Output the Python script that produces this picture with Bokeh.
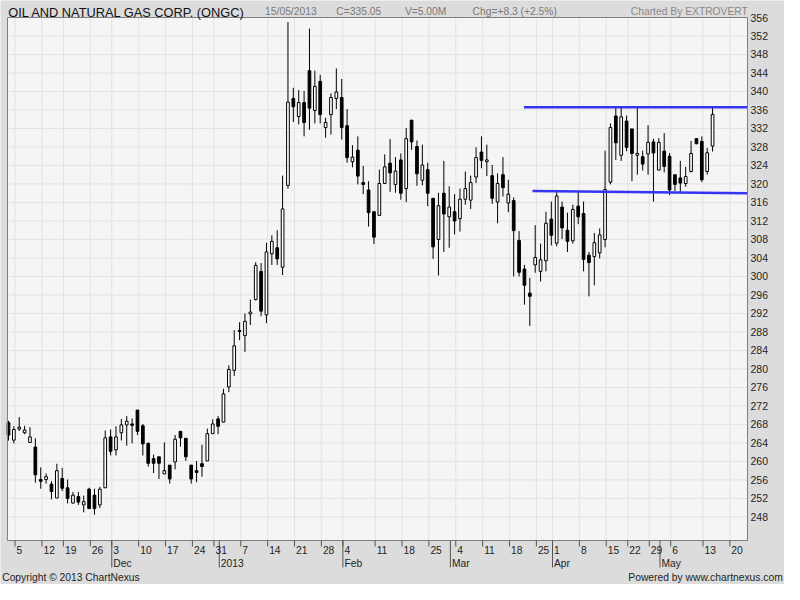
from bokeh.plotting import figure
from bokeh.models import Range1d, ColumnDataSource
from bokeh.core.properties import value
from bokeh.embed import file_html
from bokeh.resources import INLINE

# ---------------- data (daily OHLC, ONGC, 2 Nov 2012 - 15 May 2013) ----------------
opens = [268.4, 264.6, 267.0, 266.2, 264.1, 263.1, 256.1, 256.1, 255.1, 252.1,
         256.3, 254.3, 251.0, 252.4, 250.6, 254.0, 252.7, 250.6, 254.3, 265.3,
         262.5, 266.2, 267.9, 268.1, 271.1, 267.7, 263.9, 260.6, 261.0, 257.3,
         259.2, 259.9, 266.5, 265.0, 259.2, 258.0, 259.5, 260.1, 266.0, 269.2,
         268.5, 276.1, 279.7, 288.3, 287.2, 291.9, 295.0, 301.1, 291.7, 304.9,
         306.2, 302.0, 319.7, 338.5, 334.6, 337.6, 344.5, 335.9, 342.2, 332.2,
         335.0, 338.5, 338.7, 332.6, 324.8, 327.3, 320.3, 318.7, 314.0, 313.2,
         320.1, 324.5, 319.9, 325.2, 319.0, 333.8, 328.1, 320.8, 323.1, 316.9,
         308.0, 318.0, 312.9, 314.0, 312.5, 316.7, 316.5, 321.5, 326.9, 324.8,
         321.8, 316.1, 322.0, 315.9, 316.4, 307.8, 301.6, 296.4, 302.5, 301.1,
         303.4, 312.4, 307.2, 315.0, 310.0, 307.7, 315.2, 313.6, 304.6, 304.3,
         305.1, 308.0, 320.4, 334.7, 326.2, 333.6, 331.9, 326.2, 325.9, 326.5,
         329.1, 323.0, 327.1, 326.0, 322.0, 321.3, 320.1, 322.7, 329.8, 329.2,
         322.7, 328.2]
highs = [268.8, 267.6, 269.6, 267.7, 267.4, 265.0, 258.7, 257.4, 255.7, 259.5,
         258.6, 256.1, 253.4, 253.4, 252.6, 254.3, 254.1, 254.5, 266.7, 266.9,
         267.6, 269.2, 269.8, 269.3, 271.1, 268.1, 264.1, 261.5, 261.0, 264.1,
         259.2, 265.7, 266.5, 265.0, 259.2, 260.1, 263.6, 267.1, 269.1, 269.8,
         275.7, 280.8, 288.4, 290.1, 292.0, 295.0, 303.1, 302.9, 307.3, 308.9,
         310.0, 321.8, 355.0, 340.8, 340.3, 340.1, 353.6, 344.5, 343.6, 334.3,
         339.6, 345.0, 342.7, 336.2, 328.4, 330.3, 323.9, 320.6, 314.0, 323.1,
         326.4, 329.7, 325.8, 326.6, 332.1, 333.8, 329.4, 328.5, 324.6, 316.9,
         318.1, 325.0, 319.5, 317.8, 319.0, 322.7, 321.8, 327.9, 330.3, 328.5,
         324.1, 322.3, 325.8, 320.9, 317.1, 309.8, 302.5, 299.7, 311.1, 307.1,
         314.0, 316.2, 318.7, 316.2, 313.8, 315.5, 318.3, 316.2, 305.3, 309.4,
         310.4, 327.2, 333.1, 336.6, 336.6, 334.8, 332.0, 336.6, 327.2, 332.7,
         329.8, 329.9, 331.0, 326.7, 322.0, 325.0, 323.7, 329.3, 329.8, 330.3,
         327.8, 336.6]
lows = [264.5, 263.9, 266.6, 265.9, 264.1, 255.4, 254.1, 255.2, 251.8, 252.1,
        253.6, 250.9, 250.9, 250.6, 249.0, 249.8, 248.5, 249.9, 254.3, 261.3,
        261.3, 264.5, 263.4, 263.9, 265.7, 261.3, 258.9, 257.5, 256.2, 257.3,
        255.2, 258.3, 263.2, 260.1, 255.2, 255.5, 256.7, 260.1, 266.0, 265.9,
        268.5, 275.0, 278.5, 286.2, 283.7, 289.5, 294.8, 291.4, 289.9, 302.5,
        302.5, 300.3, 319.0, 333.4, 332.9, 330.3, 331.7, 333.1, 333.1, 330.0,
        330.7, 336.2, 329.6, 324.6, 323.6, 319.9, 317.8, 310.8, 307.0, 313.2,
        320.1, 318.3, 318.1, 316.6, 316.1, 327.4, 319.6, 319.7, 315.2, 303.8,
        300.2, 305.3, 306.2, 309.1, 309.7, 315.5, 314.6, 320.2, 323.4, 321.7,
        315.7, 311.5, 317.3, 313.9, 300.0, 300.0, 293.9, 289.3, 300.8, 298.9,
        301.1, 306.7, 306.5, 308.1, 305.3, 307.1, 311.3, 301.1, 295.7, 298.1,
        303.9, 306.3, 319.9, 325.2, 325.0, 327.1, 320.6, 322.0, 322.9, 322.0,
        316.2, 323.0, 322.5, 317.6, 318.5, 318.3, 319.4, 322.5, 328.6, 320.4,
        322.0, 327.0]
closes = [265.7, 266.9, 267.4, 266.8, 265.3, 257.1, 255.7, 256.7, 253.5, 258.0,
          254.2, 252.0, 252.7, 251.2, 251.3, 249.8, 249.8, 254.0, 265.1, 262.2,
          265.3, 267.9, 268.7, 267.8, 266.5, 263.8, 259.6, 259.6, 259.6, 258.0,
          256.2, 264.8, 265.1, 261.0, 256.2, 257.6, 258.9, 266.0, 268.1, 267.6,
          274.6, 279.9, 285.0, 288.1, 290.3, 292.3, 302.4, 292.5, 305.3, 307.6,
          303.8, 314.6, 337.7, 336.7, 337.6, 333.3, 336.4, 341.1, 335.0, 333.3,
          338.7, 339.9, 332.2, 325.7, 325.8, 321.7, 319.9, 313.8, 308.5, 320.1,
          323.7, 322.4, 322.8, 318.0, 329.8, 329.1, 322.2, 324.1, 318.0, 306.4,
          315.3, 313.5, 315.0, 312.0, 316.7, 319.0, 320.3, 325.7, 325.1, 325.2,
          316.9, 320.1, 319.2, 317.8, 309.9, 300.9, 298.1, 295.7, 304.1, 303.6,
          311.5, 308.9, 317.4, 310.5, 307.6, 314.5, 312.9, 303.7, 303.0, 307.3,
          309.0, 318.8, 332.2, 328.9, 334.5, 327.9, 326.6, 326.6, 324.3, 329.0,
          326.7, 329.0, 323.8, 318.7, 319.9, 320.2, 321.6, 326.6, 328.7, 320.9,
          326.75, 335.05]

# first trading day of each week (candle number) and its label
week_tick_idx = [2, 7, 11, 16, 20, 25, 30, 35, 39, 44, 49, 54, 59, 63, 69, 74, 79,
                 84, 89, 94, 99, 102, 107, 112, 116, 120, 124, 130, 135]
week_labels = ["5", "12", "19", "26", "3", "10", "17", "24", "31", "7", "14", "21",
               "28", "4", "11", "18", "25", "4", "11", "18", "25", "1", "8", "15",
               "22", "29", "6", "13", "20"]
# first trading day of each month (candle number) and its label
month_idx = [20, 40, 63, 83, 102, 122]
month_labels = ["Dec", "2013", "Feb", "Mar", "Apr", "May"]
price_ticks = [248, 252, 256, 260, 264, 268, 272, 276, 280, 284, 288, 292, 296, 300,
               304, 308, 312, 316, 320, 324, 328, 332, 336, 340, 344, 348, 352, 356]

# drawn resistance / support lines (candle number, price)
resist_x = [96.9, 138.5]
resist_y = [336.6, 336.6]
support_x = [98.5, 138.5]
support_y = [318.5, 318.0]

header_title = "OIL AND NATURAL GAS CORP. (ONGC)"
header_items = ["15/05/2013", "C=335.05", "V=5.00M", "Chg=+8.3 (+2.5%)"]
header_right = "Charted By EXTROVERT"
footer_left = "Copyright \u00a9 2013 ChartNexus"
footer_right = "Powered by www.chartnexus.com"

# ---------------- layout / styling ----------------
FONT = "Liberation Sans"
W, H = 784, 584
PLOT_L, PLOT_R, PLOT_T, PLOT_B = 7, 747, 17, 540          # plot window in pixels
XMIN, XMAX = 0.818, 138.5                                 # visible candle window
YMIN, YMAX = 242.9, 356.0                                 # visible price window
TICK_SHIFT = 0.22

kx = (XMAX - XMIN) / (PLOT_R - PLOT_L)
ky = (YMAX - YMIN) / (PLOT_B - PLOT_T)
x_range = Range1d(XMIN - PLOT_L * kx, XMAX + (W - PLOT_R) * kx)
y_range = Range1d(YMIN - (H - PLOT_B) * ky, YMAX + PLOT_T * ky)

p = figure(width=W, height=H, x_range=x_range, y_range=y_range,
           output_backend="svg", toolbar_location=None,
           x_axis_location=None, y_axis_location=None, min_border=0,
           background_fill_color="#dcdcdc", border_fill_color="#dcdcdc",
           outline_line_color=None)
p.extra_x_ranges = {"px": Range1d(0, W)}
p.extra_y_ranges = {"px": Range1d(H, 0)}
p.grid.visible = False

GRID = "#e3e3e3"
TEXT = "#1e1e1e"
TICKC = "#555555"

# plot window background
p.quad(left=[XMIN], right=[XMAX], bottom=[YMIN], top=[YMAX],
       fill_color="#f5f5f5", line_color=None)

# grid lines
week_pos = [i + TICK_SHIFT for i in week_tick_idx]
month_pos = [i + TICK_SHIFT for i in month_idx]
p.segment(x0=week_pos, x1=week_pos, y0=[YMIN] * len(week_pos), y1=[YMAX] * len(week_pos),
          line_color=GRID, line_width=1)
p.segment(x0=[XMIN] * len(price_ticks), x1=[XMAX] * len(price_ticks),
          y0=price_ticks, y1=price_ticks, line_color=GRID, line_width=1)

# candles
n = len(closes)
src = ColumnDataSource(dict(
    x=list(range(1, n + 1)), o=opens, h=highs, l=lows, c=closes,
    top=[max(a, b) for a, b in zip(opens, closes)],
    bottom=[min(a, b) for a, b in zip(opens, closes)],
    fill=["white" if c >= o else "black" for o, c in zip(opens, closes)],
))
p.segment(x0="x", y0="l", x1="x", y1="h", source=src, line_color="black", line_width=1)
p.vbar(x="x", width=0.5, top="top", bottom="bottom", source=src,
       fill_color="fill", line_color="black", line_width=1)

# trend lines
p.line(resist_x, resist_y, line_color="#3434f2", line_width=2.5)
p.line(support_x, support_y, line_color="#3434f2", line_width=2.5)

# plot window frame
p.quad(left=[XMIN], right=[XMAX], bottom=[YMIN], top=[YMAX],
       fill_color=None, line_color="#7f7f7f", line_width=1)

# bottom date axis: week ticks + labels, month dividers + labels
p.segment(x0=week_pos, x1=week_pos, y0=[PLOT_B] * len(week_pos),
          y1=[PLOT_B + 6] * len(week_pos), y_range_name="px",
          line_color=TICKC, line_width=1)
p.segment(x0=month_pos, x1=month_pos, y0=[PLOT_B] * len(month_pos),
          y1=[PLOT_B + 27] * len(month_pos), y_range_name="px",
          line_color=TICKC, line_width=1)
p.text(x=week_pos, y=[PLOT_B + 9.8] * len(week_pos), text=week_labels,
       y_range_name="px", x_offset=1.5, text_align="left", text_baseline="middle",
       text_font=value(FONT), text_font_size=value("10.3px"), text_color=TEXT)
p.text(x=month_pos, y=[PLOT_B + 22.6] * len(month_pos), text=month_labels,
       y_range_name="px", x_offset=1.5, text_align="left", text_baseline="middle",
       text_font=value(FONT), text_font_size=value("10.3px"), text_color=TEXT)

# right price axis labels
p.text(x=[XMAX] * len(price_ticks), y=price_ticks, text=[str(t) for t in price_ticks],
       x_offset=3, text_align="left", text_baseline="middle",
       text_font=value(FONT), text_font_size=value("10.5px"), text_color=TEXT)


def px_text(texts, xs, y, size, color, align="left", baseline="alphabetic"):
    p.text(x=xs, y=[y] * len(xs), text=texts, x_range_name="px", y_range_name="px",
           text_align=align, text_baseline=baseline, text_font=value(FONT),
           text_font_size=value(size), text_color=color)


px_text([header_title], [7.8], 11.8, "12.8px", "#111111")
px_text(header_items, [264.6, 335.8, 404.4, 472.0], 11.4, "10.3px", "#7a7a7a")
px_text([header_right], [747.4], 11.4, "10.3px", "#8a8a8a", align="right")
px_text([footer_left], [1.7], 577.0, "10.3px", TEXT, baseline="middle")
px_text([footer_right], [782.3], 577.0, "10.3px", TEXT, align="right", baseline="middle")

open("out.html", "w").write(file_html(p, INLINE))
